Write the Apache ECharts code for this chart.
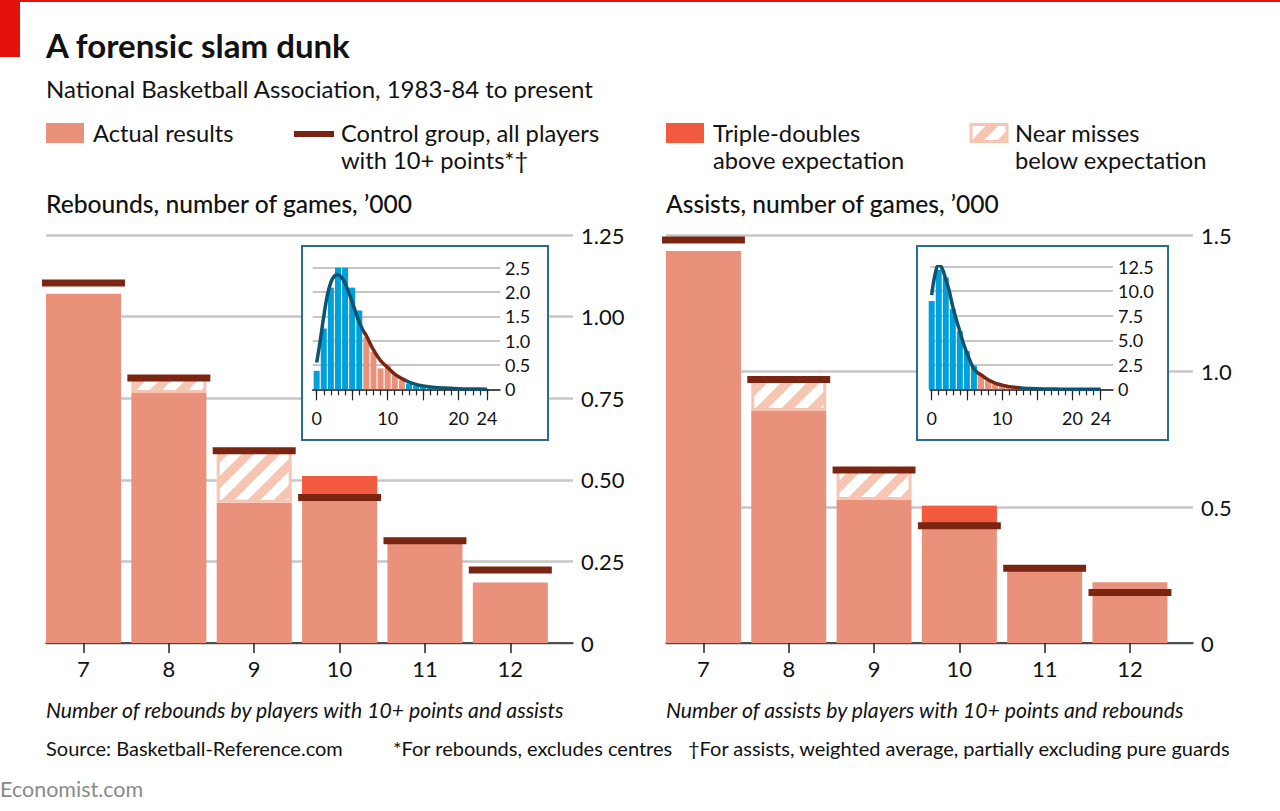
<!DOCTYPE html>
<html><head><meta charset="utf-8">
<script src="https://cdn.jsdelivr.net/npm/echarts@6/dist/echarts.min.js"></script>
<style>html,body{margin:0;padding:0;background:#fff}#c{width:1280px;height:811px}</style>
</head><body><div id="c"></div>
<script>
// ---------- data ----------
const categories = [7, 8, 9, 10, 11, 12];
const reboundsActual  = [1.07, 0.766, 0.43, 0.512, 0.303, 0.185];
const reboundsControl = [1.103, 0.812, 0.589, 0.446, 0.313, 0.224];
const assistsActual   = [1.441, 0.853, 0.526, 0.505, 0.265, 0.223];
const assistsControl  = [1.482, 0.969, 0.636, 0.431, 0.275, 0.186];
const nearMissCategories = [8, 9];
const tripleDoubleCategories = [10];
const reboundsTicks = ['0', '0.25', '0.50', '0.75', '1.00', '1.25'];
const assistsTicks = ['0', '0.5', '1.0', '1.5'];

const insetBins = [0,1,2,3,4,5,6,7,8,9,10,11,12,13,14,15,16,17,18,19,20,21,22,23,24];
const reboundsHist = [0.38,1.25,2.09,2.54,2.52,2.09,1.62,1.07,0.77,0.43,0.51,0.30,0.185,0.12,0.075,0.05,0.035,0.025,0.018,0.012,0.01,0.007,0.005,0.004,0.003];
const assistsHist  = [9.0,12.2,11.4,8.2,5.9,3.9,2.4,1.44,0.85,0.53,0.505,0.265,0.223,0.15,0.11,0.08,0.06,0.045,0.035,0.025,0.02,0.015,0.01,0.008,0.006];
const reboundsCurveX = [0,0.5,1,1.5,2,2.5,3,3.5,4,4.5,5,5.5,6,6.5,7,8,9,10,11,12,13,14,15,16,18,20,22,24];
const reboundsCurveY = [0.55,1.0,1.5,1.93,2.2,2.33,2.36,2.3,2.18,2.0,1.8,1.58,1.38,1.22,1.10,0.81,0.59,0.45,0.31,0.22,0.15,0.10,0.07,0.05,0.025,0.012,0.006,0.003];
const assistsCurveX = [0,0.5,1,1.5,2,2.5,3,3.5,4,4.5,5,5.5,6,6.5,7,8,9,10,11,12,13,14,16,18,20,22,24];
const assistsCurveY = [9.6,11.8,12.7,12.3,11.2,10.0,8.4,7.1,5.9,4.7,3.7,2.8,2.1,1.7,1.48,0.97,0.64,0.43,0.275,0.186,0.12,0.08,0.04,0.02,0.01,0.005,0.003];
const reboundsInsetTicks = ['0', '0.5', '1.0', '1.5', '2.0', '2.5'];
const assistsInsetTicks = ['0', '2.5', '5.0', '7.5', '10.0', '12.5'];
const insetMajorTicks = [0, 5, 10, 15, 20, 24];
const insetXLabels = [0, 10, 20, 24];

// ---------- texts ----------
const titleText = 'A forensic slam dunk';
const subtitleText = 'National Basketball Association, 1983-84 to present';
const legendActual = 'Actual results';
const legendControl = ['Control group, all players', 'with 10+ points*\u2020'];
const legendTriple = ['Triple-doubles', 'above expectation'];
const legendNear = ['Near misses', 'below expectation'];
const reboundsTitle = 'Rebounds, number of games, \u2019000';
const assistsTitle = 'Assists, number of games, \u2019000';
const reboundsXTitle = 'Number of rebounds by players with 10+ points and assists';
const assistsXTitle = 'Number of assists by players with 10+ points and rebounds';
const sourceText = 'Source: Basketball-Reference.com';
const note1 = '*For rebounds, excludes centres';
const note2 = '\u2020For assists, weighted average, partially excluding pure guards';
const brandText = 'Economist.com';

// ---------- styles ----------
const FONT = 'Lato, "Noto Sans", sans-serif';
const TXT = '#121212';
const SALMON = '#e9917a';
const CONTROL = '#7a2512';
const TRIPLE = '#f15a3f';
const HATCH = '#f7c5b1';
const BLUE = '#00a0dc';
const TEAL = '#0e5470';
const GRID = '#c6c6c6';
const BOX = '#2a6e8c';
const RED = '#e3120b';

function makeHatch() {
  const P = 26, cv = document.createElement('canvas');
  cv.width = P; cv.height = P;
  const ctx = cv.getContext('2d');
  ctx.fillStyle = '#fff'; ctx.fillRect(0, 0, P, P);
  ctx.strokeStyle = HATCH; ctx.lineWidth = 9;
  for (const o of [-P, 0, P]) {
    ctx.beginPath(); ctx.moveTo(o - 6, P + 6); ctx.lineTo(o + P + 6, -6); ctx.stroke();
  }
  return cv;
}
const hatchCanvas = makeHatch();
const hatchFill = { image: hatchCanvas, repeat: 'repeat' };

function rectBetween(api, x, lo, hi, frac) {
  const p0 = api.coord([x, lo]);
  const p1 = api.coord([x, hi]);
  const w = api.size([1, 0])[0] * frac;
  return { x: p0[0] - w / 2, y: Math.min(p0[1], p1[1]), width: w, height: Math.abs(p0[1] - p1[1]) };
}

function mainSeries(gi, actual, control) {
  const xi = gi, yi = gi;
  const idx = c => categories.indexOf(c);
  return [
    { type: 'custom', name: 'Actual results', xAxisIndex: xi, yAxisIndex: yi, z: 2,
      data: categories.map((c, i) => [c, actual[i]]),
      renderItem: (p, api) => ({ type: 'rect', shape: rectBetween(api, api.value(0), 0, api.value(1), 0.879),
        style: { fill: SALMON } }) },
    { type: 'custom', name: 'Triple-doubles', xAxisIndex: xi, yAxisIndex: yi, z: 3,
      data: tripleDoubleCategories.map(c => [c, control[idx(c)], actual[idx(c)]]),
      renderItem: (p, api) => ({ type: 'rect', shape: rectBetween(api, api.value(0), api.value(1), api.value(2), 0.879),
        style: { fill: TRIPLE } }) },
    { type: 'custom', name: 'Near misses', xAxisIndex: xi, yAxisIndex: yi, z: 3,
      data: nearMissCategories.map(c => [c, actual[idx(c)], control[idx(c)]]),
      renderItem: (p, api) => {
        const s = rectBetween(api, api.value(0), api.value(1), api.value(2), 0.879);
        return { type: 'rect', shape: { x: s.x + 1.5, y: s.y, width: s.width - 3, height: s.height - 1.5 },
          style: { fill: hatchFill, stroke: HATCH, lineWidth: 3 } };
      } },
    { type: 'custom', name: 'Control group', xAxisIndex: xi, yAxisIndex: yi, z: 4,
      data: categories.map((c, i) => [c, control[i]]),
      renderItem: (p, api) => {
        const c = api.coord([api.value(0), api.value(1)]);
        const w = api.size([1, 0])[0] * 0.972;
        return { type: 'rect', shape: { x: c[0] - w / 2, y: c[1] - 3.5, width: w, height: 7 }, style: { fill: CONTROL } };
      } }
  ];
}

const chart = echarts.init(document.getElementById('c'), null, { renderer: 'svg', width: 1280, height: 811 });

const grids = [
  { left: 46, top: 235, width: 527, height: 408 },
  { left: 666, top: 235, width: 527, height: 408 },
  { left: 312.7, top: 267.7, width: 187.3, height: 121.6 },
  { left: 930, top: 266.7, width: 183, height: 122.6 }
];

function mainX(gi, min, max) {
  return { type: 'value', gridIndex: gi, position: 'bottom', min: min, max: max,
    axisLine: { show: true, lineStyle: { color: '#222', width: 1.5 } },
    splitLine: { show: false },
    axisTick: { show: true, customValues: categories, length: 10, lineStyle: { color: '#222', width: 1.5 } },
    axisLabel: { customValues: categories, fontSize: 22, fontFamily: FONT, color: TXT, margin: 14 } };
}
function mainY(gi, max, interval, labels) {
  return { type: 'value', gridIndex: gi, position: 'right', min: 0, max: max, interval: interval,
    axisLine: { show: false }, axisTick: { show: false },
    splitLine: { lineStyle: { color: GRID, width: 2.5 } },
    axisLabel: { margin: 8, fontSize: 22, fontFamily: FONT, color: TXT,
      formatter: v => labels[Math.round(v / interval)] } };
}
function insetXMinor(gi, min, max) {
  return { type: 'value', gridIndex: gi, position: 'bottom', min: min, max: max, z: 10,
    axisLine: { show: true, lineStyle: { color: '#222', width: 1.5 } },
    splitLine: { show: false },
    axisTick: { show: true, customValues: insetBins, length: 6, lineStyle: { color: '#222', width: 1.2 } },
    axisLabel: { show: false } };
}
function insetXMajor(gi, min, max) {
  return { type: 'value', gridIndex: gi, position: 'bottom', offset: 0, min: min, max: max, z: 10,
    axisLine: { show: false }, splitLine: { show: false },
    axisTick: { show: true, customValues: insetMajorTicks, length: 11, lineStyle: { color: '#222', width: 1.2 } },
    axisLabel: { customValues: insetXLabels, fontSize: 18, fontFamily: FONT, color: TXT, margin: 20 } };
}
function insetY(gi, max, interval, labels) {
  return { type: 'value', gridIndex: gi, position: 'right', min: 0, max: max, interval: interval, z: 10,
    axisLine: { show: false }, axisTick: { show: false },
    splitLine: { lineStyle: { color: GRID, width: 2 } },
    axisLabel: { margin: 5, fontSize: 18, fontFamily: FONT, color: TXT,
      formatter: v => labels[Math.round(v / interval)] } };
}

const xAxes = [
  mainX(0, 6.561, 12.734),
  mainX(1, 6.561, 12.739),
  insetXMinor(2, -0.56, 25.83),
  insetXMinor(3, -0.24, 25.75),
  insetXMajor(2, -0.56, 25.83),
  insetXMajor(3, -0.24, 25.75)
];
const yAxes = [
  mainY(0, 1.25, 0.25, reboundsTicks),
  mainY(1, 1.5, 0.5, assistsTicks),
  insetY(2, 2.5, 0.5, reboundsInsetTicks),
  insetY(3, 12.5, 2.5, assistsInsetTicks)
];

function histSeries(xi, yi, hist) {
  return { type: 'bar', xAxisIndex: xi, yAxisIndex: yi, z: 11, barWidth: 6,
    data: insetBins.map((b, i) => [b, hist[i]]),
    itemStyle: { color: p => (p.value[0] >= 7 && p.value[0] <= 12) ? SALMON : BLUE } };
}
function curveSeries(xi, yi, xs, ys) {
  return { type: 'line', xAxisIndex: xi, yAxisIndex: yi, z: 12, smooth: 0.4, showSymbol: false, symbol: 'none',
    lineStyle: { width: 3.5 }, data: xs.map((x, i) => [x, ys[i]]) };
}

const series = [].concat(
  mainSeries(0, reboundsActual, reboundsControl),
  mainSeries(1, assistsActual, assistsControl),
  [histSeries(2, 2, reboundsHist), curveSeries(2, 2, reboundsCurveX, reboundsCurveY),
   histSeries(3, 3, assistsHist), curveSeries(3, 3, assistsCurveX, assistsCurveY)]
);
const curvePieces = [{ lt: 6.5, color: TEAL }, { gte: 6.5, lte: 12.5, color: CONTROL }, { gt: 12.5, color: TEAL }];

function txt(x, y, text, font, fill, extra) {
  return Object.assign({ type: 'text', x: x, y: y, z: 20,
    style: { text: text, font: font, fill: fill || TXT, verticalAlign: 'middle', align: 'left' } }, extra || {});
}
const F_LEG = '23.7px ' + FONT;
const graphics = [
  { type: 'rect', shape: { x: 0, y: 0, width: 1280, height: 2 }, style: { fill: RED }, z: 20 },
  { type: 'rect', shape: { x: 0, y: 0, width: 20, height: 57 }, style: { fill: RED }, z: 20 },
  txt(46, 45, titleText, 'bold 33px ' + FONT),
  txt(46, 88, subtitleText, '24px ' + FONT),
  // legend
  { type: 'rect', shape: { x: 46, y: 123, width: 38, height: 20 }, style: { fill: SALMON }, z: 20 },
  txt(93, 133, legendActual, F_LEG),
  { type: 'rect', shape: { x: 294, y: 131, width: 40, height: 6 }, style: { fill: CONTROL }, z: 20 },
  txt(341, 133, legendControl[0], F_LEG),
  txt(341, 160, legendControl[1], F_LEG),
  { type: 'rect', shape: { x: 666, y: 123, width: 38, height: 20 }, style: { fill: TRIPLE }, z: 20 },
  txt(713, 133, legendTriple[0], F_LEG),
  txt(713, 160, legendTriple[1], F_LEG),
  { type: 'rect', shape: { x: 971, y: 124.5, width: 36, height: 17 }, style: { fill: hatchFill, stroke: HATCH, lineWidth: 3 }, z: 20 },
  txt(1015, 133, legendNear[0], F_LEG),
  txt(1015, 160, legendNear[1], F_LEG),
  // section titles
  txt(46, 203, reboundsTitle, '500 24.6px ' + FONT),
  txt(666, 203, assistsTitle, '500 24.6px ' + FONT),
  // inset boxes
  { type: 'rect', shape: { x: 302, y: 246, width: 246, height: 194 }, style: { fill: '#fff', stroke: BOX, lineWidth: 2 }, z: 5 },
  { type: 'rect', shape: { x: 917, y: 246, width: 251, height: 194 }, style: { fill: '#fff', stroke: BOX, lineWidth: 2 }, z: 5 },
  // axis titles and footer
  txt(46, 710, reboundsXTitle, 'italic 21.2px ' + FONT),
  txt(666, 710, assistsXTitle, 'italic 21.2px ' + FONT),
  txt(46, 748, sourceText, '20px ' + FONT),
  txt(393, 748, note1, '20px ' + FONT),
  txt(688, 748, note2, '20px ' + FONT),
  txt(0, 789, brandText, '21.5px ' + FONT, '#8a8a8a')
];

chart.setOption({
  animation: false,
  backgroundColor: '#fff',
  textStyle: { fontFamily: FONT },
  grid: grids,
  xAxis: xAxes,
  yAxis: yAxes,
  visualMap: [
    { type: 'piecewise', show: false, dimension: 0, seriesIndex: 9, pieces: curvePieces },
    { type: 'piecewise', show: false, dimension: 0, seriesIndex: 11, pieces: curvePieces }
  ],
  series: series,
  graphic: { elements: graphics }
});
</script></body></html>
